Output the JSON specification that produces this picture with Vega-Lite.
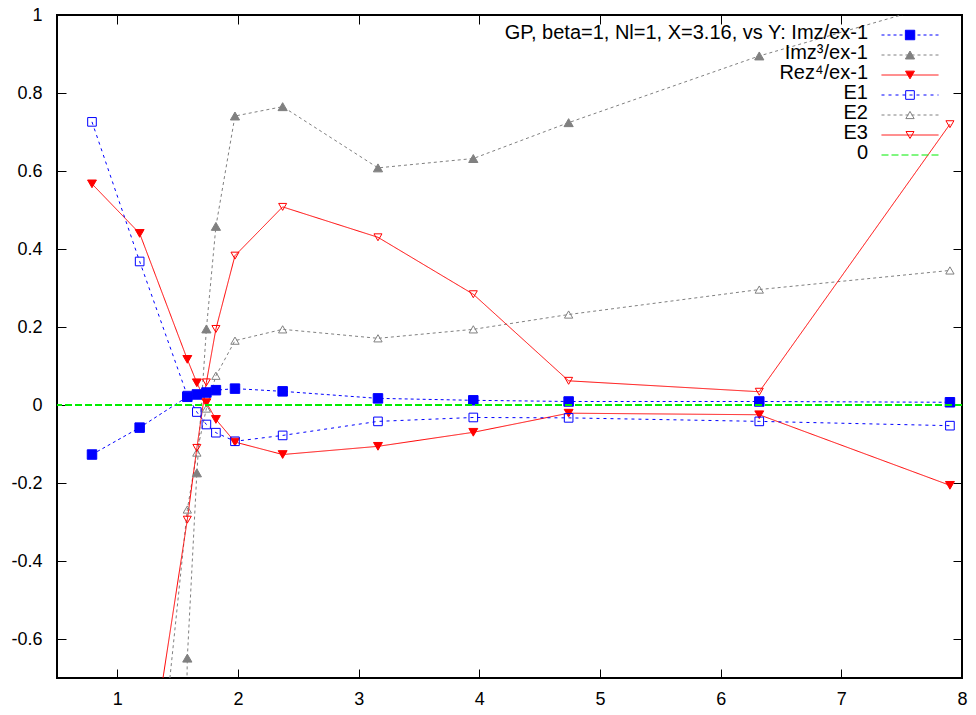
{
  "$schema": "https://vega.github.io/schema/vega-lite/v6.json",
  "width": 905,
  "height": 663,
  "autosize": {"type": "none"},
  "padding": {"left": 57, "top": 15, "right": 14, "bottom": 37},
  "background": "white",
  "config": {
    "view": {"stroke": "#000", "strokeWidth": 2},
    "font": "Liberation Sans",
    "axis": {"grid": false, "domain": false, "tickColor": "#000", "tickSize": -9, "tickWidth": 1, "labelFont": "Liberation Sans", "labelFontSize": 18, "labelColor": "#000", "labelFlush": false, "title": null}
  },
  "data": {"values": [
    {"s": "Imz/ex-1", "x": 0.79, "y": -0.127},
    {"s": "Imz/ex-1", "x": 1.185, "y": -0.058},
    {"s": "Imz/ex-1", "x": 1.58, "y": 0.021},
    {"s": "Imz/ex-1", "x": 1.659, "y": 0.027},
    {"s": "Imz/ex-1", "x": 1.738, "y": 0.032},
    {"s": "Imz/ex-1", "x": 1.817, "y": 0.038},
    {"s": "Imz/ex-1", "x": 1.975, "y": 0.042},
    {"s": "Imz/ex-1", "x": 2.37, "y": 0.035},
    {"s": "Imz/ex-1", "x": 3.16, "y": 0.017},
    {"s": "Imz/ex-1", "x": 3.95, "y": 0.012},
    {"s": "Imz/ex-1", "x": 4.74, "y": 0.009},
    {"s": "Imz/ex-1", "x": 6.32, "y": 0.009},
    {"s": "Imz/ex-1", "x": 7.9, "y": 0.007},
    {"s": "Imz³/ex-1", "x": 1.185, "y": -8},
    {"s": "Imz³/ex-1", "x": 1.58, "y": -0.649},
    {"s": "Imz³/ex-1", "x": 1.659, "y": -0.174},
    {"s": "Imz³/ex-1", "x": 1.738, "y": 0.195},
    {"s": "Imz³/ex-1", "x": 1.817, "y": 0.458},
    {"s": "Imz³/ex-1", "x": 1.975, "y": 0.741},
    {"s": "Imz³/ex-1", "x": 2.37, "y": 0.765},
    {"s": "Imz³/ex-1", "x": 3.16, "y": 0.608},
    {"s": "Imz³/ex-1", "x": 3.95, "y": 0.632},
    {"s": "Imz³/ex-1", "x": 4.74, "y": 0.724},
    {"s": "Imz³/ex-1", "x": 6.32, "y": 0.895},
    {"s": "Imz³/ex-1", "x": 7.9, "y": 1.036},
    {"s": "Rez⁴/ex-1", "x": 0.79, "y": 0.567},
    {"s": "Rez⁴/ex-1", "x": 1.185, "y": 0.44},
    {"s": "Rez⁴/ex-1", "x": 1.58, "y": 0.117},
    {"s": "Rez⁴/ex-1", "x": 1.659, "y": 0.057},
    {"s": "Rez⁴/ex-1", "x": 1.738, "y": 0.006},
    {"s": "Rez⁴/ex-1", "x": 1.817, "y": -0.037},
    {"s": "Rez⁴/ex-1", "x": 1.975, "y": -0.095},
    {"s": "Rez⁴/ex-1", "x": 2.37, "y": -0.127},
    {"s": "Rez⁴/ex-1", "x": 3.16, "y": -0.106},
    {"s": "Rez⁴/ex-1", "x": 3.95, "y": -0.07},
    {"s": "Rez⁴/ex-1", "x": 4.74, "y": -0.021},
    {"s": "Rez⁴/ex-1", "x": 6.32, "y": -0.025},
    {"s": "Rez⁴/ex-1", "x": 7.9, "y": -0.206},
    {"s": "E1", "x": 0.79, "y": 0.726},
    {"s": "E1", "x": 1.185, "y": 0.368},
    {"s": "E1", "x": 1.58, "y": 0.024},
    {"s": "E1", "x": 1.659, "y": -0.018},
    {"s": "E1", "x": 1.738, "y": -0.05},
    {"s": "E1", "x": 1.817, "y": -0.071},
    {"s": "E1", "x": 1.975, "y": -0.093},
    {"s": "E1", "x": 2.37, "y": -0.078},
    {"s": "E1", "x": 3.16, "y": -0.042},
    {"s": "E1", "x": 3.95, "y": -0.032},
    {"s": "E1", "x": 4.74, "y": -0.033},
    {"s": "E1", "x": 6.32, "y": -0.042},
    {"s": "E1", "x": 7.9, "y": -0.053},
    {"s": "E2", "x": 1.185, "y": -1.45},
    {"s": "E2", "x": 1.58, "y": -0.268},
    {"s": "E2", "x": 1.659, "y": -0.122},
    {"s": "E2", "x": 1.738, "y": -0.009},
    {"s": "E2", "x": 1.817, "y": 0.075},
    {"s": "E2", "x": 1.975, "y": 0.165},
    {"s": "E2", "x": 2.37, "y": 0.194},
    {"s": "E2", "x": 3.16, "y": 0.171},
    {"s": "E2", "x": 3.95, "y": 0.194},
    {"s": "E2", "x": 4.74, "y": 0.232},
    {"s": "E2", "x": 6.32, "y": 0.296},
    {"s": "E2", "x": 7.9, "y": 0.345},
    {"s": "E3", "x": 1.185, "y": -1.09},
    {"s": "E3", "x": 1.58, "y": -0.294},
    {"s": "E3", "x": 1.659, "y": -0.11},
    {"s": "E3", "x": 1.738, "y": 0.058},
    {"s": "E3", "x": 1.817, "y": 0.195},
    {"s": "E3", "x": 1.975, "y": 0.383},
    {"s": "E3", "x": 2.37, "y": 0.508},
    {"s": "E3", "x": 3.16, "y": 0.43},
    {"s": "E3", "x": 3.95, "y": 0.284},
    {"s": "E3", "x": 4.74, "y": 0.062},
    {"s": "E3", "x": 6.32, "y": 0.034},
    {"s": "E3", "x": 7.9, "y": 0.72}
  ]},
  "layer": [
    {
      "mark": {"type": "line", "clip": true, "strokeWidth": 1},
      "encoding": {
        "x": {"field": "x", "type": "quantitative", "scale": {"domain": [0.5, 8], "nice": false, "zero": false},
              "axis": {"orient": "bottom", "values": [1, 2, 3, 4, 5, 6, 7, 8], "labelPadding": 21, "title": null}},
        "y": {"field": "y", "type": "quantitative", "scale": {"domain": [-0.7, 1], "nice": false, "zero": false},
              "axis": {"orient": "left", "values": [-0.6, -0.4, -0.2, 0, 0.2, 0.4, 0.6, 0.8, 1], "labelPadding": 24, "labelExpr": "toString(round(datum.value*10)/10)", "title": null}},
        "color": {"field": "s", "type": "nominal",
                  "scale": {"domain": ["Imz/ex-1", "Imz³/ex-1", "Rez⁴/ex-1", "E1", "E2", "E3", "0"],
                            "range": ["#0000ff", "#808080", "#ff0000", "#0000ff", "#808080", "#ff0000", "#00ee00"]},
                  "legend": {"orient": "none", "legendX": 843, "legendY": 10, "title": null, "symbolType": "M-28.5,0H28.5", "symbolSize": 4, "symbolStrokeWidth": 1,
                             "labelAlign": "right", "labelOffset": -52, "labelFontSize": 20, "labelFont": "Liberation Sans", "labelColor": "#000", "labelLimit": 2000,
                             "rowPadding": 0, "padding": 0,
                             "labelExpr": "datum.label == 'Imz/ex-1' ? 'GP, beta=1, Nl=1, X=3.16, vs Y: Imz/ex-1' : datum.label",
                             "encode": {"symbols": {"update": {"stroke": {"scale": "color", "field": "value"}, "fill": {"value": "transparent"}, "strokeWidth": {"value": 1}, "opacity": {"value": 1}, "strokeOpacity": {"value": 1}}},
                                        "labels": {"update": {"dy": {"value": -2}}}}}},
        "strokeDash": {"field": "s", "type": "nominal",
                       "scale": {"domain": ["Imz/ex-1", "Imz³/ex-1", "Rez⁴/ex-1", "E1", "E2", "E3", "0"],
                                 "range": [[3, 3], [3, 3], [1, 0], [3, 4], [3, 3], [1, 0], [7, 3]]}}
      }
    },
    {
      "mark": {"type": "point", "clip": true, "strokeWidth": 1, "opacity": 1},
      "encoding": {
        "x": {"field": "x", "type": "quantitative", "scale": {"domain": [0.5, 8], "nice": false, "zero": false},
              "axis": {"orient": "top", "values": [1, 2, 3, 4, 5, 6, 7, 8], "labels": false, "title": null}},
        "y": {"field": "y", "type": "quantitative", "scale": {"domain": [-0.7, 1], "nice": false, "zero": false},
              "axis": {"orient": "right", "values": [-0.6, -0.4, -0.2, 0, 0.2, 0.4, 0.6, 0.8, 1], "labels": false, "title": null}},
        "shape": {"field": "s", "type": "nominal",
                  "scale": {"domain": ["Imz/ex-1", "Imz³/ex-1", "Rez⁴/ex-1", "E1", "E2", "E3"],
                            "range": ["square", "triangle-up", "triangle-down", "square", "triangle-up", "triangle-down"]},
                  "legend": {"orient": "none", "legendX": 847.5, "legendY": 10, "title": null, "labelExpr": "''", "labelFontSize": 1,
                             "clipHeight": 20, "rowPadding": 0, "padding": 0, "symbolStrokeWidth": 1, "symbolOpacity": 1}},
        "fill": {"field": "s", "type": "nominal",
                 "scale": {"domain": ["Imz/ex-1", "Imz³/ex-1", "Rez⁴/ex-1", "E1", "E2", "E3"],
                           "range": ["#0000ff", "#808080", "#ff0000", "transparent", "transparent", "transparent"]}},
        "stroke": {"field": "s", "type": "nominal",
                   "scale": {"domain": ["Imz/ex-1", "Imz³/ex-1", "Rez⁴/ex-1", "E1", "E2", "E3"],
                             "range": ["#0000ff", "#808080", "#ff0000", "#0000ff", "#808080", "#ff0000"]}},
        "size": {"field": "s", "type": "nominal",
                 "scale": {"domain": ["Imz/ex-1", "Imz³/ex-1", "Rez⁴/ex-1", "E1", "E2", "E3"],
                           "range": [90, 64, 64, 80, 85, 85]}}
      }
    },
    {
      "mark": {"type": "rule", "strokeWidth": 1},
      "encoding": {
        "y": {"datum": 0, "type": "quantitative", "axis": null},
        "color": {"datum": "0"},
        "strokeDash": {"datum": "0"}
      }
    }
  ],
  "resolve": {"axis": {"x": "independent", "y": "independent"}}
}
